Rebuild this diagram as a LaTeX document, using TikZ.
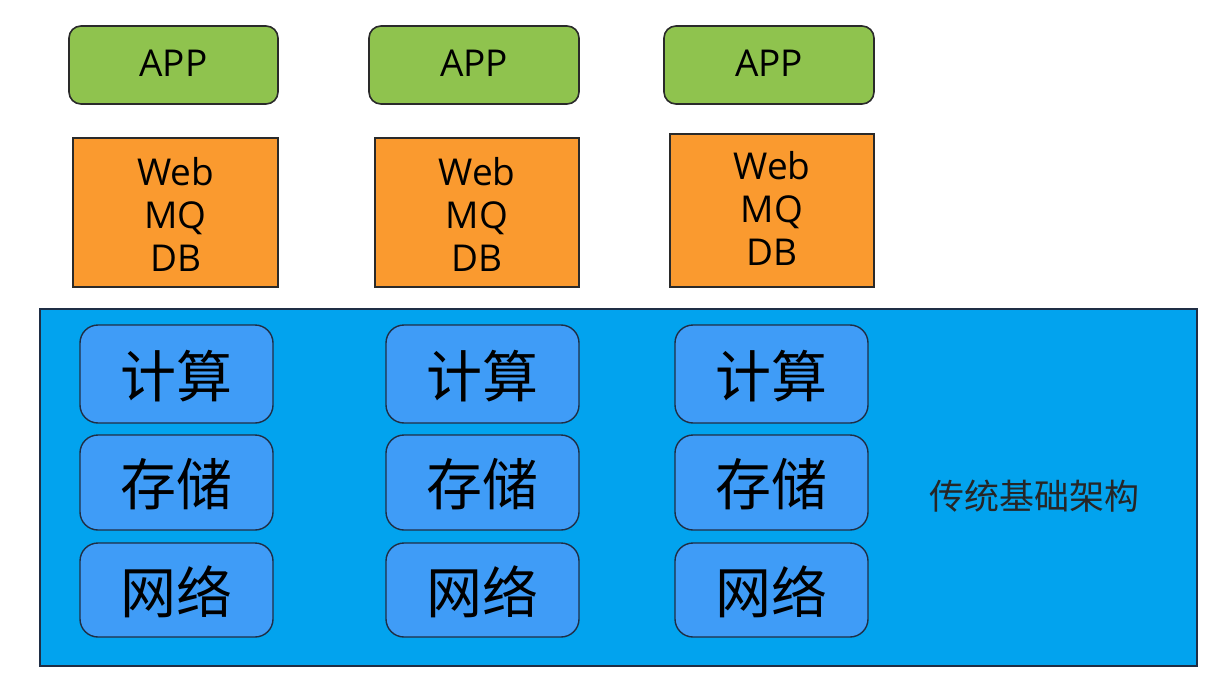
\documentclass[tikz,border=0pt]{standalone}
\usepackage{fontspec}
\setmainfont{Open Sans}
\newfontfamily\cjk{Noto Sans CJK SC}
\definecolor{appgreen}{HTML}{8FC34E}
\definecolor{svcorange}{HTML}{FA9A2F}
\definecolor{infrablue}{HTML}{02A3EE}
\definecolor{resblue}{HTML}{3F9CF7}
\definecolor{edge}{HTML}{2A2A2A}
\definecolor{navy}{HTML}{1F2E45}
\tikzset{
  appbox/.style={draw=edge, line width=1.6pt, fill=appgreen, rounded corners=12pt},
  svcbox/.style={draw=edge, line width=1.4pt, fill=svcorange},
  resbox/.style={draw=navy, line width=1.4pt, fill=resblue, rounded corners=18pt},
  infrabox/.style={draw=navy, line width=1.6pt, fill=infrablue},
  apptext/.style={font=\fontsize{37}{42}\selectfont, text=black},
  svctext/.style={font=\fontsize{37}{43}\selectfont, align=center, text=black},
  restext/.style={font=\cjk\fontsize{56}{60}\selectfont, text=black},
  infratext/.style={font=\cjk\fontsize{35}{40}\selectfont, text=black!85}
}
\begin{document}
\begin{tikzpicture}[x=1pt,y=-1pt]
\useasboundingbox[fill=white] (0,0) rectangle (1230,687);
% infrastructure
\draw[infrabox] (40,309) rectangle (1197,666);
\node[infratext] (infra) at (1034,496) {传统基础架构};
% column 1
\draw[appbox] (69,26) rectangle (278,104);
\node[apptext] (app1) at (173.5,63) {APP};
\draw[svcbox] (73,138) rectangle (278,287);
\node[svctext] (svc1) at (175.5,214) {Web\\MQ\\DB};
\draw[resbox] (80,325) rectangle (273,423);
\node[restext] (c1) at (176.5,376) {计算};
\draw[resbox] (80,435) rectangle (273,530);
\node[restext] (s1) at (176.5,484) {存储};
\draw[resbox] (80,543) rectangle (273,637);
\node[restext] (n1) at (176.5,592) {网络};
% column 2
\draw[appbox] (369,26) rectangle (579,104);
\node[apptext] (app2) at (474,63) {APP};
\draw[svcbox] (375,138) rectangle (579,287);
\node[svctext] (svc2) at (477,214) {Web\\MQ\\DB};
\draw[resbox] (386,325) rectangle (579,423);
\node[restext] (c2) at (482.5,376) {计算};
\draw[resbox] (386,435) rectangle (579,530);
\node[restext] (s2) at (482.5,484) {存储};
\draw[resbox] (386,543) rectangle (579,637);
\node[restext] (n2) at (482.5,592) {网络};
% column 3
\draw[appbox] (664,26) rectangle (874,104);
\node[apptext] (app3) at (769,63) {APP};
\draw[svcbox] (670,134) rectangle (874,287);
\node[svctext] (svc3) at (772,208) {Web\\MQ\\DB};
\draw[resbox] (675,325) rectangle (868,423);
\node[restext] (c3) at (771.5,376) {计算};
\draw[resbox] (675,435) rectangle (868,530);
\node[restext] (s3) at (771.5,484) {存储};
\draw[resbox] (675,543) rectangle (868,637);
\node[restext] (n3) at (771.5,592) {网络};
\end{tikzpicture}
\end{document}
